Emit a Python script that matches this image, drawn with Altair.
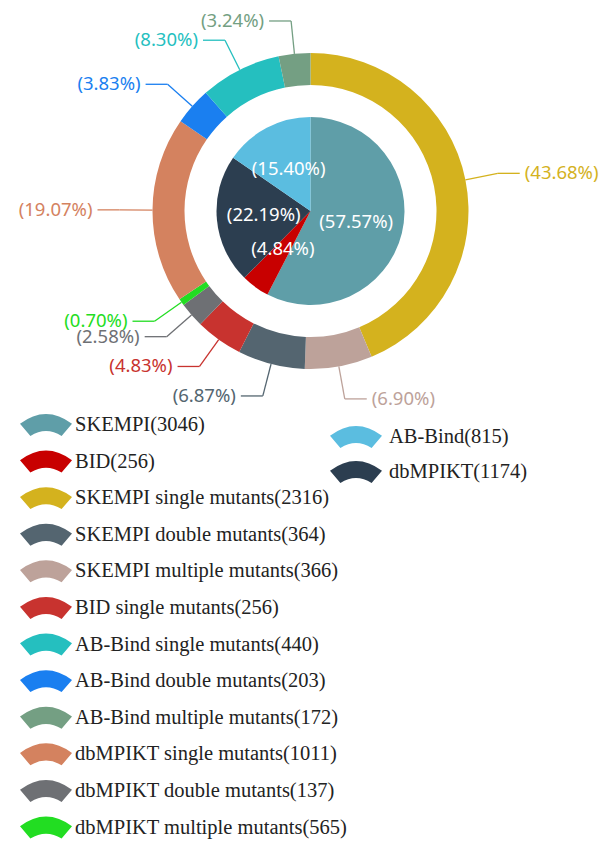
import math
import altair as alt
import pandas as pd

# ---------------- data ----------------
inner_names = ["SKEMPI", "BID", "dbMPIKT", "AB-Bind"]
inner_pct = [57.57, 4.84, 22.19, 15.40]

outer_names = [
    "SKEMPI single mutants", "SKEMPI multiple mutants", "SKEMPI double mutants",
    "BID single mutants", "dbMPIKT double mutants", "dbMPIKT multiple mutants",
    "dbMPIKT single mutants", "AB-Bind double mutants", "AB-Bind single mutants",
    "AB-Bind multiple mutants",
]
outer_pct = [43.68, 6.90, 6.87, 4.83, 2.58, 0.70, 19.07, 3.83, 8.30, 3.24]

legend_left_labels = [
    "SKEMPI(3046)", "BID(256)", "SKEMPI single mutants(2316)",
    "SKEMPI double mutants(364)", "SKEMPI multiple mutants(366)",
    "BID single mutants(256)", "AB-Bind single mutants(440)",
    "AB-Bind double mutants(203)", "AB-Bind multiple mutants(172)",
    "dbMPIKT single mutants(1011)", "dbMPIKT double mutants(137)",
    "dbMPIKT multiple mutants(565)",
]
legend_right_labels = ["AB-Bind(815)", "dbMPIKT(1174)"]

# ---------------- styles ----------------
inner_colors = ["#5f9ea8", "#c80000", "#2c3e50", "#5bbde0"]
outer_colors = ["#d4b21e", "#bda29a", "#546570", "#c8332f", "#6e7074",
                "#22dd22", "#d4825f", "#1a7ff0", "#25bfbf", "#749f83"]
legend_left_colors = ["#5f9ea8", "#c80000", "#d4b21e", "#546570", "#bda29a",
                      "#c8332f", "#25bfbf", "#1a7ff0", "#749f83", "#d4825f",
                      "#6e7074", "#22dd22"]
legend_right_colors = ["#5bbde0", "#2c3e50"]

# ---------------- layout ----------------
W, H = 596, 831
CX, CY = 302.5, 203
R_OUT, R_IN, R_PIE = 158, 126, 94
R_INNER_LABEL = 47
L1, L2, GAP = 33, 22, 5
LABEL_FONT = "Noto Sans"
LABEL_SIZE = 18.5
LEG_FONT = "Liberation Serif"
LEG_SIZE = 20.5
LEG_L_ICON_X, LEG_L_TEXT_X, LEG_L_TOP, LEG_L_STEP = 38, 67, 417, 36.6
LEG_R_ICON_X, LEG_R_TEXT_X, LEG_R_TOP, LEG_R_STEP = 348, 381, 429, 35
ICON = "M -1 -0.05 Q 0 -0.8 1 -0.05 L 0.6 0.42 Q 0 0.05 -0.6 0.42 Z"
ICON_SIZE = 2704

# ---------------- tables ----------------
inner_df = pd.DataFrame({
    "idx": range(len(inner_names)), "name": inner_names, "pct": inner_pct,
    "col": inner_colors, "label": [f"({p:.2f}%)" for p in inner_pct],
})
outer_df = pd.DataFrame({
    "idx": range(len(outer_names)), "name": outer_names, "pct": outer_pct,
    "col": outer_colors,
})

rows = []
cum = 0.0
for n, p, c in zip(outer_names, outer_pct, outer_colors):
    a = (cum + p / 2) / 100 * 2 * math.pi
    cum += p
    s, co = math.sin(a), math.cos(a)
    ex, ey = CX + R_OUT * s, CY - R_OUT * co
    bx, by = CX + (R_OUT + L1) * s, CY - (R_OUT + L1) * co
    side = 1 if s >= 0 else -1
    tx = bx + side * L2
    rows.append(dict(name=n, col=c, ex=ex, ey=ey, bx=bx, by=by, tx=tx, ty=by,
                     lx=tx + side * GAP, side=side, label=f"({p:.2f}%)"))
lab_df = pd.DataFrame(rows)

leg_df = pd.DataFrame(
    [dict(ix=LEG_L_ICON_X, tx=LEG_L_TEXT_X, y=LEG_L_TOP + i * LEG_L_STEP, label=l, col=c)
     for i, (l, c) in enumerate(zip(legend_left_labels, legend_left_colors))]
    + [dict(ix=LEG_R_ICON_X, tx=LEG_R_TEXT_X, y=LEG_R_TOP + i * LEG_R_STEP, label=l, col=c)
       for i, (l, c) in enumerate(zip(legend_right_labels, legend_right_colors))]
)

xs = alt.Scale(domain=[0, W], range=[0, W])
ys = alt.Scale(domain=[0, H], range=[0, H])
theta_scale = alt.Scale(domain=[0, 100])

pie = alt.Chart(inner_df).mark_arc(radius=R_PIE, strokeWidth=0).encode(
    theta=alt.Theta("pct:Q", stack=True, scale=theta_scale),
    order=alt.Order("idx:Q"),
    color=alt.Color("col:N", scale=None),
    x=alt.value(CX), y=alt.value(CY),
)
pie_text = alt.Chart(inner_df).mark_text(
    radius=R_INNER_LABEL, font=LABEL_FONT, fontSize=LABEL_SIZE, color="white"
).encode(
    theta=alt.Theta("pct:Q", stack=True, scale=theta_scale),
    order=alt.Order("idx:Q"),
    text="label:N",
    x=alt.value(CX), y=alt.value(CY),
)
ring = alt.Chart(outer_df).mark_arc(radius=R_OUT, radius2=R_IN, strokeWidth=0).encode(
    theta=alt.Theta("pct:Q", stack=True, scale=theta_scale),
    order=alt.Order("idx:Q"),
    color=alt.Color("col:N", scale=None),
    x=alt.value(CX), y=alt.value(CY),
)

lab_base = alt.Chart(lab_df)
leg1 = lab_base.mark_rule(strokeWidth=1.3).encode(
    x=alt.X("ex:Q", scale=xs, axis=None), y=alt.Y("ey:Q", scale=ys, axis=None),
    x2="bx:Q", y2="by:Q", color=alt.Color("col:N", scale=None),
)
leg2 = lab_base.mark_rule(strokeWidth=1.3).encode(
    x=alt.X("bx:Q", scale=xs, axis=None), y=alt.Y("by:Q", scale=ys, axis=None),
    x2="tx:Q", y2="ty:Q", color=alt.Color("col:N", scale=None),
)
txt_r = lab_base.transform_filter("datum.side > 0").mark_text(
    align="left", baseline="middle", font=LABEL_FONT, fontSize=LABEL_SIZE
).encode(
    x=alt.X("lx:Q", scale=xs, axis=None), y=alt.Y("ty:Q", scale=ys, axis=None),
    text="label:N", color=alt.Color("col:N", scale=None),
)
txt_l = lab_base.transform_filter("datum.side < 0").mark_text(
    align="right", baseline="middle", font=LABEL_FONT, fontSize=LABEL_SIZE
).encode(
    x=alt.X("lx:Q", scale=xs, axis=None), y=alt.Y("ty:Q", scale=ys, axis=None),
    text="label:N", color=alt.Color("col:N", scale=None),
)

leg_icons = alt.Chart(leg_df).mark_point(
    shape=ICON, size=ICON_SIZE, filled=True, opacity=1, strokeWidth=0
).encode(
    x=alt.X("ix:Q", scale=xs, axis=None), y=alt.Y("y:Q", scale=ys, axis=None),
    color=alt.Color("col:N", scale=None),
)
leg_text = alt.Chart(leg_df).mark_text(
    align="left", baseline="middle", font=LEG_FONT, fontSize=LEG_SIZE, color="#222222"
).encode(
    x=alt.X("tx:Q", scale=xs, axis=None), y=alt.Y("y:Q", scale=ys, axis=None),
    text="label:N",
)

chart = alt.layer(
    ring, pie, pie_text, leg1, leg2, txt_r, txt_l, leg_icons, leg_text
).properties(
    width=W, height=H, padding=0, autosize="none"
).configure_view(stroke=None)

chart.save("out.html", embed_options={"renderer": "svg", "actions": False})
